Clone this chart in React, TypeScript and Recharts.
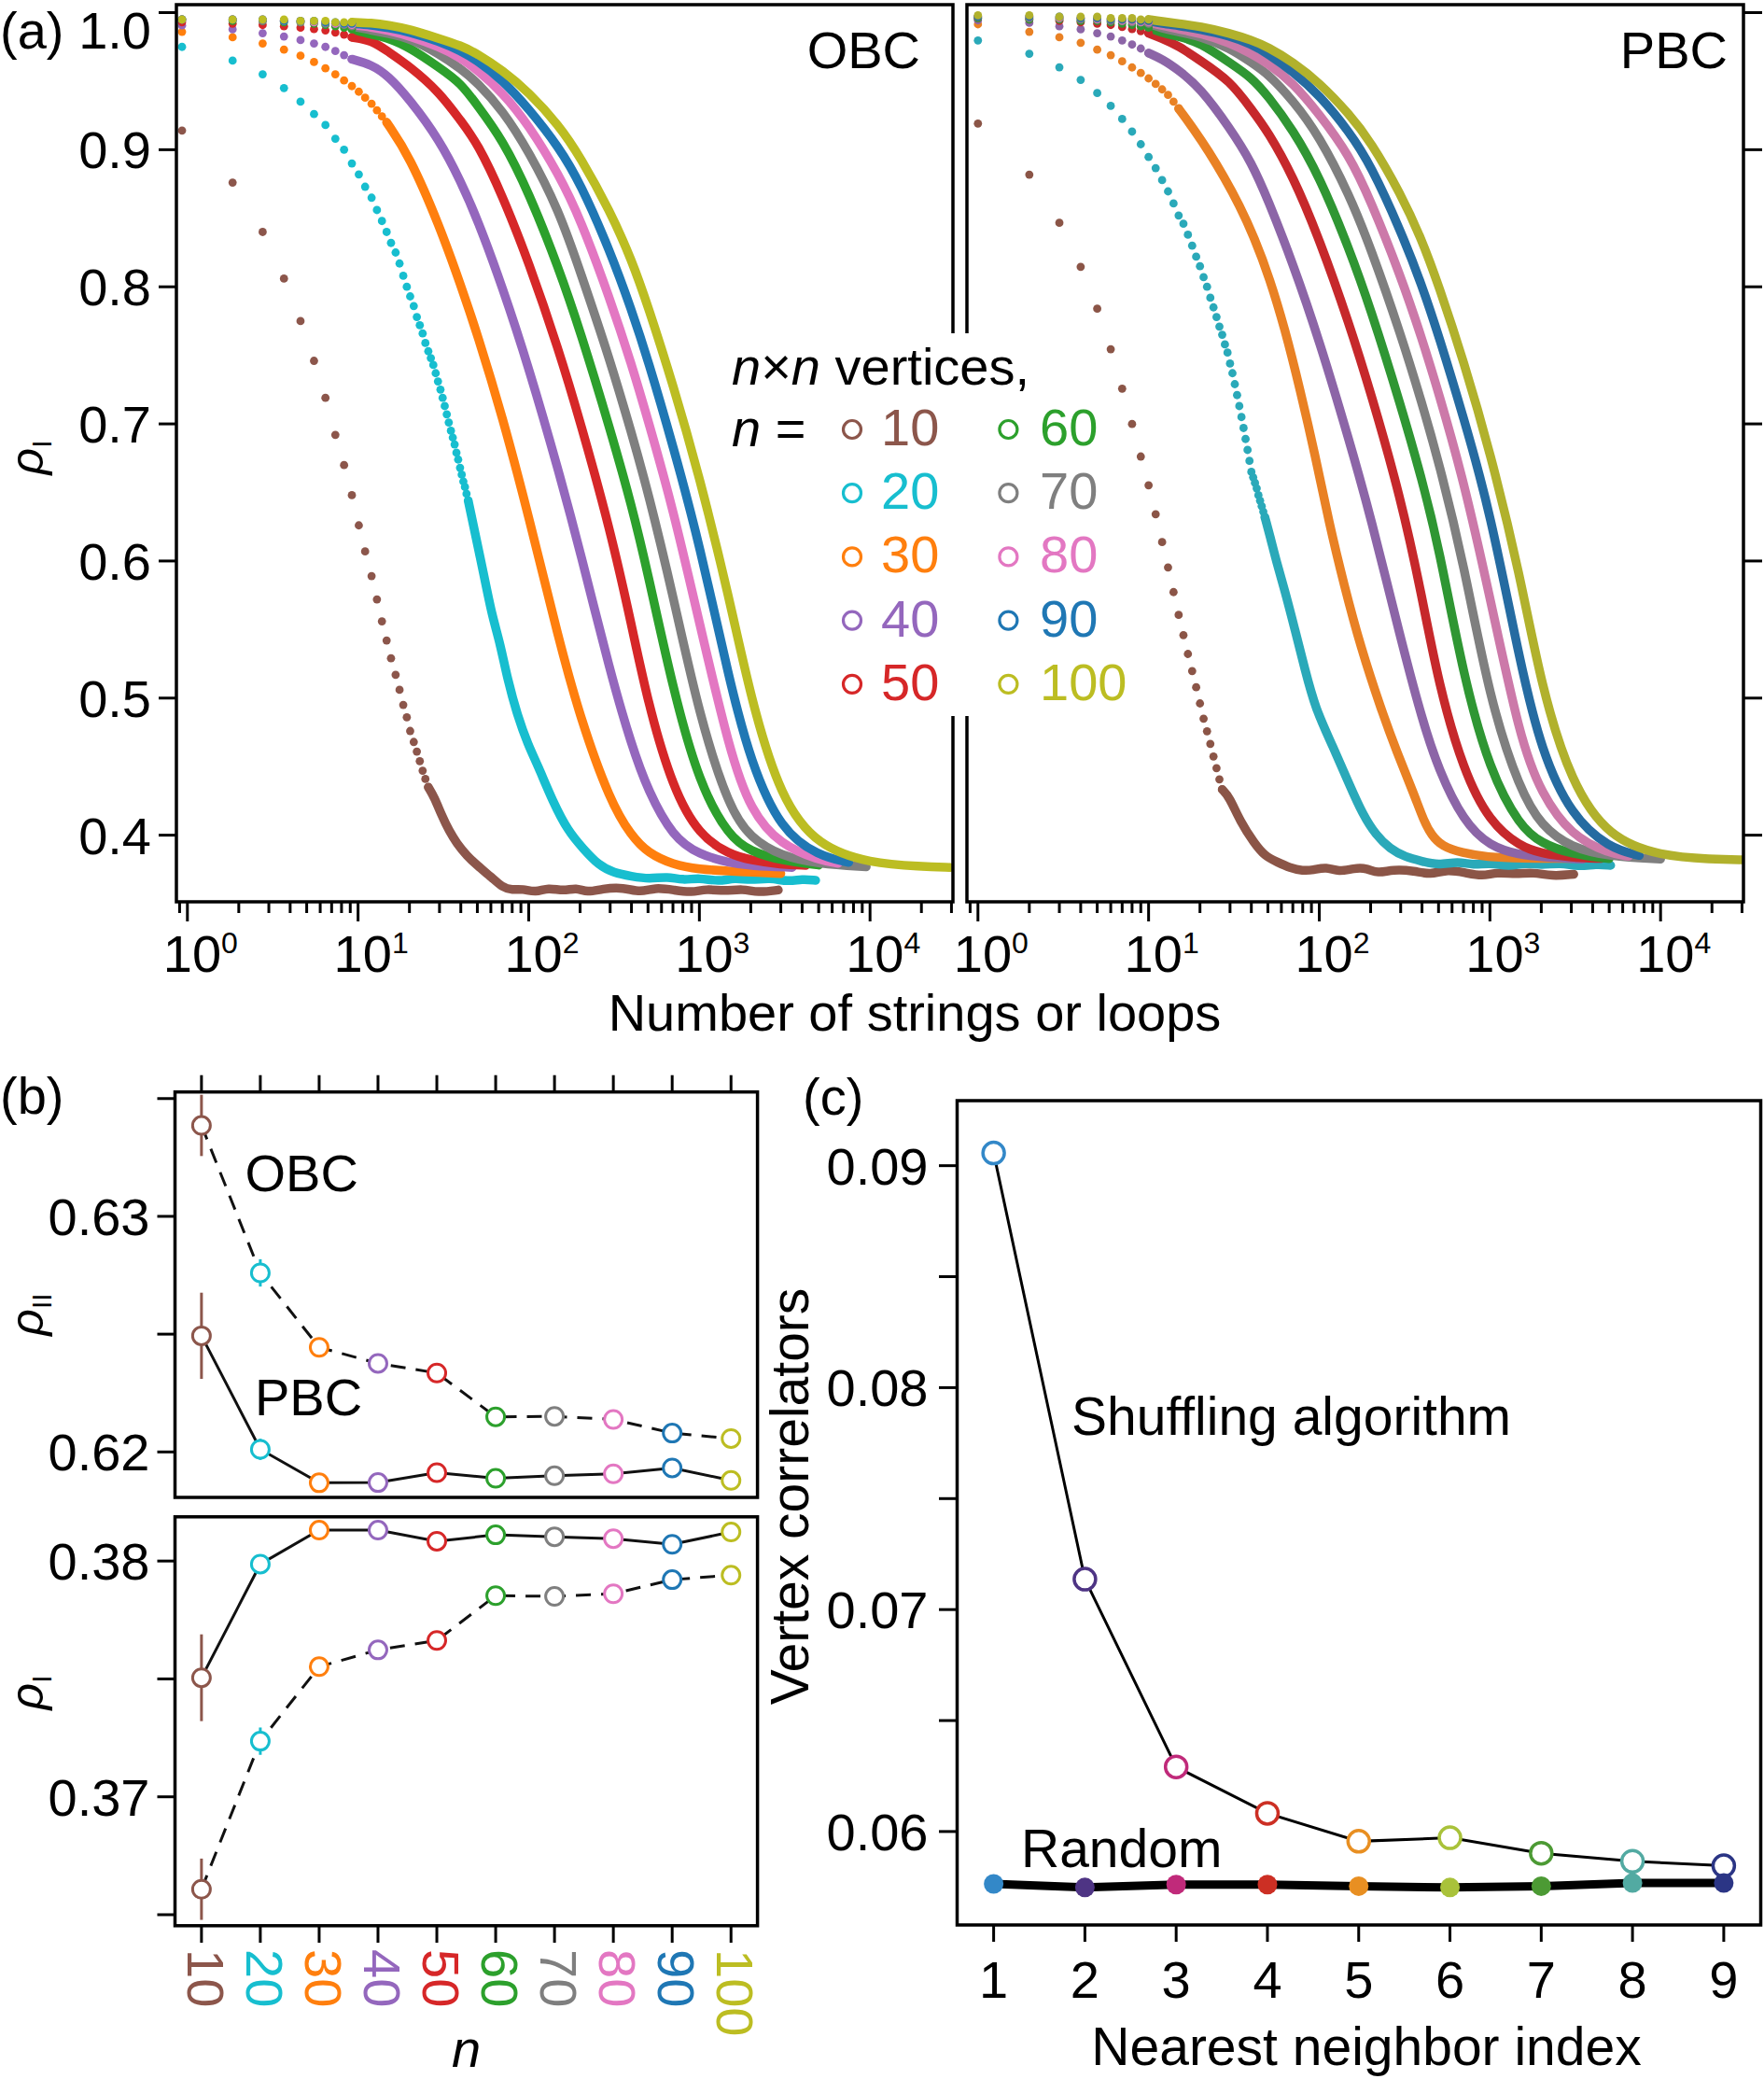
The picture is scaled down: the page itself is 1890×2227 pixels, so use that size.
import React from "react"
import { ComposedChart, Line, Scatter, XAxis, YAxis, ErrorBar } from "recharts"

const FONT = '"Liberation Sans", Arial, Helvetica, sans-serif'

// ---------- panel (a): rho_I vs number of strings or loops ----------
const sizes = [10, 20, 30, 40, 50, 60, 70, 80, 90, 100]
const obcColors = ["#8c564b", "#17becf", "#ff7f0e", "#9467bd", "#d62728", "#2ca02c", "#7f7f7f", "#e377c2", "#1f77b4", "#bcbd22"]
const pbcColors = ["#8b5547", "#2aa9b9", "#e98124", "#8c65a7", "#c6282b", "#2f9633", "#7f7f7f", "#cc79a9", "#256ba1", "#b1b12c"]

const stringTicks = [0.9, 1, 2, 3, 4, 5, 6, 7, 8, 9, 10, 20, 30, 40, 50, 60, 70, 80, 90, 100, 200, 300, 400, 500, 600, 700, 800, 900,
  1000, 2000, 3000, 4000, 5000, 6000, 7000, 8000, 9000, 10000, 20000, 30000]
const rhoTicks = [0.4, 0.5, 0.6, 0.7, 0.8, 0.9, 1.0]

// positions of the first, still separated points
const obcDotX = [0.93, 1.84, 2.76, 3.68, 4.6, 5.52, 6.44, 7.36, 8.28, 9.2, 10.1, 11.0, 12.0, 12.9, 13.8, 14.7, 15.6, 16.6, 17.5, 18.4,
  19.3, 20.2, 21.2, 22.1, 23.0, 23.9, 24.8, 25.8, 26.7, 27.6, 28.5, 29.4, 30.4, 31.3, 32.2, 33.1, 34.0, 35.0, 35.9, 36.8,
  37.7, 38.6, 39.6, 40.5, 41.4, 42.3, 43.2, 44.2]
const pbcDotX = [1, 2, 3, 4, 5, 6, 7, 8, 9, 10, 11, 12, 13, 14, 15, 16, 17, 18, 19, 20,
  21, 22, 23, 24, 25, 26, 27, 28, 29, 30, 31, 32, 33, 34, 35, 36, 37, 38, 39, 40, 41, 42, 43, 44, 45, 46, 47, 48]

// OBC
const obcDots10 = [0.914, 0.876, 0.84, 0.806, 0.775, 0.746, 0.719, 0.692, 0.67, 0.648, 0.626, 0.607, 0.589, 0.572, 0.556, 0.542, 0.529,
  0.517, 0.506, 0.495, 0.486, 0.476, 0.468, 0.461, 0.454, 0.447, 0.441, 0.435]
const obcTail10 = [[25.8, 0.435], [27.9, 0.428], [30.9, 0.4145], [34.2, 0.403], [37.9, 0.394], [43.4, 0.385], [49.8, 0.378], [61, 0.369],
  [70, 0.362], [80, 0.36], [92, 0.361], [110, 0.358], [130, 0.362], [160, 0.359], [190, 0.362], [220, 0.358], [270, 0.361], [360, 0.362],
  [450, 0.358], [550, 0.362], [710, 0.36], [900, 0.358], [1100, 0.361], [1400, 0.359], [1800, 0.361], [2200, 0.358], [2900, 0.36]]
const obcDots20 = [0.975, 0.965, 0.955, 0.945, 0.935, 0.926, 0.918, 0.908, 0.9, 0.89, 0.882, 0.873, 0.865, 0.856, 0.848, 0.84, 0.832,
  0.825, 0.817, 0.808, 0.8, 0.793, 0.786, 0.778, 0.772, 0.766, 0.759, 0.753, 0.748, 0.743, 0.737, 0.731, 0.725, 0.719, 0.713, 0.707,
  0.701, 0.695, 0.69, 0.685, 0.679, 0.674, 0.668, 0.663, 0.658, 0.654, 0.649, 0.644]
const obcTail20 = [[44.2, 0.644], [46.5, 0.631], [55, 0.588], [61, 0.56], [68, 0.54], [75, 0.514], [86, 0.487], [99, 0.466],
  [113, 0.451], [139, 0.424], [170, 0.403], [209, 0.39], [257, 0.378], [315, 0.3725], [400, 0.37], [510, 0.368], [650, 0.37], [800, 0.367],
  [1000, 0.369], [1300, 0.366], [1600, 0.369], [2000, 0.367], [2600, 0.369], [3300, 0.366], [4000, 0.368], [4800, 0.367]]
const obcDots30 = [0.986, 0.982, 0.9775, 0.973, 0.9686, 0.964, 0.9594, 0.955, 0.9505, 0.9464, 0.9423, 0.9379, 0.9335, 0.9287, 0.9243, 0.92]
const obcTail30 = [[14.7, 0.92], [20, 0.8955], [30, 0.8445], [40, 0.8011], [50, 0.7654], [70, 0.7058], [100, 0.6327], [150, 0.5425],
  [200, 0.4858], [300, 0.4245], [400, 0.3994], [500, 0.387], [700, 0.3785], [1000, 0.375], [1500, 0.3738], [2000, 0.373], [3000, 0.372]]
const obcDots40 = [0.9907, 0.9878, 0.985, 0.9826, 0.98, 0.9775, 0.975, 0.972, 0.969, 0.966]
const obcTail40 = [[9.2, 0.966], [12, 0.9621], [15, 0.954], [20, 0.9369], [30, 0.9072], [40, 0.8768], [50, 0.8495], [70, 0.8002],
  [100, 0.7413], [150, 0.6654], [200, 0.6073], [300, 0.5189], [400, 0.4657], [500, 0.4323], [700, 0.3985], [1000, 0.3858],
  [1500, 0.3798], [2000, 0.3776], [3500, 0.3765]]
const obcDots50 = [0.993, 0.992, 0.991, 0.99, 0.989, 0.988, 0.987, 0.9855, 0.984, 0.982]
const obcTail50 = [[9.2, 0.982], [12, 0.98], [15, 0.9715], [20, 0.961], [30, 0.942], [40, 0.921], [50, 0.905], [70, 0.867], [100, 0.818],
  [150, 0.754], [200, 0.702], [300, 0.6232], [400, 0.5537], [500, 0.4961], [700, 0.4336], [1000, 0.3997], [1500, 0.386], [2000, 0.3818],
  [3000, 0.3786], [4200, 0.378]]
const obcDots60 = [0.995, 0.994, 0.994, 0.993, 0.993, 0.992, 0.991, 0.99, 0.989, 0.988]
const obcTail60 = [[9.2, 0.988], [12, 0.984], [15, 0.9816], [20, 0.9747], [30, 0.9598], [40, 0.9486], [50, 0.9323], [70, 0.9076],
  [100, 0.869], [150, 0.8136], [200, 0.768], [300, 0.6962], [400, 0.6411], [500, 0.5907], [700, 0.5064], [1000, 0.437], [1500, 0.3985],
  [2000, 0.3882], [3000, 0.3815], [5000, 0.3782]]
const obcDots70 = [0.995, 0.995, 0.994, 0.994, 0.993, 0.993, 0.992, 0.992, 0.991, 0.99]
const obcTail70 = [[9.2, 0.99], [12, 0.9872], [15, 0.9847], [20, 0.9814], [30, 0.9698], [40, 0.959], [50, 0.949], [70, 0.929],
  [100, 0.899], [150, 0.856], [200, 0.8115], [300, 0.7464], [400, 0.6935], [500, 0.6506], [700, 0.5753], [1000, 0.4866], [1500, 0.4191],
  [2000, 0.3979], [3000, 0.3848], [5000, 0.379], [9500, 0.377]]
const obcDots80 = [0.995, 0.995, 0.995, 0.994, 0.994, 0.993, 0.993, 0.992, 0.992, 0.991]
const obcTail80 = [[9.2, 0.991], [12, 0.9895], [15, 0.987], [20, 0.983], [30, 0.975], [40, 0.967], [50, 0.958], [70, 0.942],
  [100, 0.918], [150, 0.882], [200, 0.85], [300, 0.791], [400, 0.7438], [500, 0.7029], [700, 0.6385], [1000, 0.555], [1500, 0.4618],
  [2000, 0.4174], [3000, 0.3927], [5000, 0.3819], [6500, 0.3795]]
const obcDots90 = [0.995, 0.995, 0.995, 0.994, 0.994, 0.994, 0.993, 0.993, 0.992, 0.992]
const obcTail90 = [[9.2, 0.992], [12, 0.991], [15, 0.989], [20, 0.986], [30, 0.979], [40, 0.972], [50, 0.965], [70, 0.951],
  [100, 0.93], [150, 0.902], [200, 0.876], [300, 0.826], [400, 0.7833], [500, 0.7466], [700, 0.6843], [1000, 0.6129], [1500, 0.5125],
  [2000, 0.4532], [3000, 0.4034], [5000, 0.3849], [7500, 0.3801]]
const obcDots100 = [0.995, 0.995, 0.995, 0.995, 0.994, 0.994, 0.994, 0.993, 0.993, 0.993]
const obcTail100 = [[9.2, 0.993], [12, 0.9925], [15, 0.991], [20, 0.988], [30, 0.981], [40, 0.976], [50, 0.97], [70, 0.958],
  [100, 0.942], [150, 0.918], [200, 0.895], [300, 0.855], [400, 0.82], [500, 0.7859], [700, 0.7288], [1000, 0.6618], [1500, 0.5727],
  [2000, 0.4997], [3000, 0.4259], [5000, 0.3914], [10000, 0.3796], [20000, 0.3771], [29500, 0.3765]]

// PBC
const pbcDots10 = [0.9191, 0.8818, 0.8467, 0.8146, 0.784, 0.7545, 0.7257, 0.6999, 0.6762, 0.6552, 0.6341, 0.6138, 0.5953, 0.5773,
  0.5607, 0.5459, 0.5322, 0.5197, 0.5079, 0.4961, 0.485, 0.4758, 0.4666, 0.4574, 0.4489, 0.4407, 0.4333]
const pbcTail10 = [[27, 0.4333], [29.7, 0.428], [34.4, 0.41], [41.7, 0.394], [47.8, 0.385], [56.7, 0.3804], [67.5, 0.3761], [80, 0.374],
  [92, 0.3745], [110, 0.377], [130, 0.373], [160, 0.376], [190, 0.376], [220, 0.372], [270, 0.375], [360, 0.374], [450, 0.371],
  [550, 0.375], [720, 0.3726], [900, 0.37], [1100, 0.373], [1420, 0.3715], [1800, 0.373], [2300, 0.37], [3100, 0.3715]]
const pbcDots20 = [0.9797, 0.97, 0.9601, 0.9509, 0.9413, 0.932, 0.9224, 0.9132, 0.904, 0.8947, 0.8866, 0.8778, 0.8696, 0.8608, 0.852,
  0.846, 0.838, 0.83, 0.822, 0.815, 0.807, 0.8, 0.792, 0.785, 0.778, 0.771, 0.765, 0.758, 0.752, 0.744, 0.737, 0.729, 0.721, 0.713,
  0.705, 0.697, 0.689, 0.681, 0.673, 0.665, 0.661, 0.657, 0.653, 0.648, 0.644, 0.64, 0.636, 0.632]
const pbcTail20 = [[48, 0.632], [52, 0.616], [56, 0.6], [63, 0.578], [72, 0.55], [82, 0.522], [95, 0.492], [120, 0.465],
  [150, 0.437], [180, 0.415], [215, 0.4], [260, 0.39], [320, 0.384], [400, 0.381], [500, 0.378], [650, 0.381], [800, 0.378], [1000, 0.38],
  [1300, 0.377], [1600, 0.38], [2000, 0.378], [2600, 0.38], [3300, 0.377], [4200, 0.379], [5100, 0.378]]
const pbcDots30 = [0.9915, 0.986, 0.982, 0.978, 0.973, 0.969, 0.9645, 0.96, 0.956, 0.952, 0.948, 0.944, 0.94, 0.935, 0.93]
const pbcTail30 = [[15, 0.93], [18.4, 0.915], [22.6, 0.8984], [27.7, 0.88], [34, 0.8597], [41.7, 0.8357], [51.2, 0.8062], [62.9, 0.7693],
  [77.2, 0.725], [94.7, 0.677], [114, 0.628], [140, 0.582], [175, 0.537], [230, 0.492], [286, 0.46], [359, 0.43], [411, 0.41], [455, 0.4],
  [522, 0.392], [686, 0.387], [965, 0.384], [1500, 0.383], [3000, 0.383]]
const pbcDots40 = [0.9944, 0.9926, 0.99, 0.9878, 0.985, 0.9826, 0.9797, 0.9767, 0.9738, 0.9705]
const pbcTail40 = [[10, 0.9705], [12, 0.9661], [15, 0.958], [20, 0.9454], [30, 0.9157], [40, 0.891], [50, 0.8638], [70, 0.8172],
  [100, 0.7611], [150, 0.6877], [200, 0.6326], [300, 0.5432], [400, 0.4846], [500, 0.4478], [700, 0.41], [1000, 0.3917], [1500, 0.3856],
  [2000, 0.384], [3500, 0.3825]]
const pbcDots50 = [0.996, 0.995, 0.994, 0.993, 0.992, 0.991, 0.9895, 0.988, 0.9865, 0.985]
const pbcTail50 = [[10, 0.985], [12, 0.9812], [15, 0.9757], [20, 0.9652], [30, 0.9503], [40, 0.9296], [50, 0.9133], [70, 0.881],
  [100, 0.835], [150, 0.7729], [200, 0.7231], [300, 0.6465], [400, 0.5742], [500, 0.5102], [700, 0.4467], [1000, 0.4092], [1500, 0.3918],
  [2000, 0.3867], [3000, 0.3837], [4500, 0.383]]
const pbcDots60 = [0.996, 0.995, 0.995, 0.994, 0.994, 0.993, 0.992, 0.991, 0.99, 0.989]
const pbcTail60 = [[10, 0.989], [12, 0.9852], [15, 0.9827], [20, 0.9782], [30, 0.9633], [40, 0.9528], [50, 0.9393], [70, 0.9146],
  [100, 0.8808], [150, 0.8276], [200, 0.7839], [300, 0.7139], [400, 0.6594], [500, 0.6113], [700, 0.5155], [1000, 0.4465], [1500, 0.4064],
  [2000, 0.3941], [3000, 0.386], [5000, 0.3829]]
const pbcDots70 = [0.997, 0.996, 0.996, 0.995, 0.995, 0.994, 0.994, 0.993, 0.993, 0.992]
const pbcTail70 = [[10, 0.992], [12, 0.9885], [15, 0.986], [20, 0.9827], [30, 0.9741], [40, 0.9636], [50, 0.9554], [70, 0.9361],
  [100, 0.91], [150, 0.8672], [200, 0.8285], [300, 0.7657], [400, 0.715], [500, 0.6729], [700, 0.5993], [1000, 0.4978], [1500, 0.4328],
  [2000, 0.4068], [3000, 0.3907], [5000, 0.3846], [10000, 0.3825]]
const pbcDots80 = [0.997, 0.997, 0.996, 0.996, 0.995, 0.995, 0.994, 0.994, 0.993, 0.993]
const pbcTail80 = [[10, 0.993], [12, 0.9905], [15, 0.988], [20, 0.985], [30, 0.978], [40, 0.97], [50, 0.963], [70, 0.949],
  [100, 0.926], [150, 0.896], [200, 0.863], [300, 0.808], [400, 0.7622], [500, 0.7229], [700, 0.6594], [1000, 0.5738], [1500, 0.4703],
  [2000, 0.4302], [3000, 0.3995], [5000, 0.3867], [6500, 0.3846]]
const pbcDots90 = [0.997, 0.997, 0.997, 0.996, 0.996, 0.995, 0.995, 0.995, 0.994, 0.994]
const pbcTail90 = [[10, 0.994], [12, 0.992], [15, 0.9905], [20, 0.988], [30, 0.983], [40, 0.977], [50, 0.97], [70, 0.957],
  [100, 0.94], [150, 0.913], [200, 0.889], [300, 0.841], [400, 0.801], [500, 0.7648], [700, 0.705], [1000, 0.6369], [1500, 0.526],
  [2000, 0.4615], [3000, 0.4139], [5000, 0.3906], [7500, 0.3852]]
const pbcDots100 = [0.998, 0.998, 0.997, 0.997, 0.997, 0.996, 0.996, 0.996, 0.995, 0.995]
const pbcTail100 = [[10, 0.995], [12, 0.9935], [15, 0.992], [20, 0.99], [30, 0.985], [40, 0.98], [50, 0.975], [70, 0.964],
  [100, 0.949], [150, 0.926], [200, 0.906], [300, 0.868], [400, 0.834], [500, 0.8013], [700, 0.7463], [1000, 0.6801], [1500, 0.5904],
  [2000, 0.5082], [3000, 0.4374], [5000, 0.3979], [10000, 0.3848], [20000, 0.3825], [31000, 0.382]]

// ---------- panel (b): rho_II and rho_I vs n ----------
const rhoIIObc = [0.63386, 0.6276, 0.62444, 0.62376, 0.62335, 0.62149, 0.62151, 0.62138, 0.6208, 0.62057]
const rhoIIObcErr = [0.0013, 0.00058, 0.00012, 0.0001, 0.0001, 0.00004, 0.00004, 0.00004, 0.00004, 0.00004]
const rhoIIPbc = [0.62493, 0.62011, 0.61869, 0.6187, 0.61912, 0.61888, 0.61899, 0.61907, 0.61932, 0.61879]
const rhoIIPbcErr = [0.00183, 0.00045, 0.00028, 0.00012, 0.0001, 0.00005, 0.00005, 0.00004, 0.00005, 0.00004]
const rhoIPbc = [0.37505, 0.37987, 0.38131, 0.38131, 0.38084, 0.38111, 0.38103, 0.38095, 0.38071, 0.38123]
const rhoIPbcErr = [0.00184, 0.0003, 0.00028, 0.0001, 0.0001, 0.00005, 0.00005, 0.00004, 0.00005, 0.00004]
const rhoIObc = [0.36608, 0.37236, 0.37552, 0.37623, 0.37663, 0.37853, 0.3785, 0.37861, 0.37921, 0.3794]
const rhoIObcErr = [0.0013, 0.00058, 0.0001, 0.0001, 0.0001, 0.00005, 0.00005, 0.00004, 0.00005, 0.00004]

// ---------- panel (c): vertex correlators ----------
const neighborIndex = [1, 2, 3, 4, 5, 6, 7, 8, 9]
const shuffling = [0.09057, 0.07137, 0.06291, 0.06082, 0.05956, 0.05972, 0.05902, 0.05866, 0.05846]
const random = [0.05764, 0.05748, 0.05761, 0.05761, 0.05754, 0.05748, 0.05754, 0.05768, 0.05768]
const neighborColors = ["#3388c8", "#4e3484", "#c02a7a", "#cc2f24", "#e88f22", "#a9c23a", "#4c9a34", "#52aaa2", "#2b3585"]

// ---------- helpers ----------
const pts = (xs: number[], ys: number[]) => ys.map((y, i) => ({ x: xs[i], y }))
const pairs = (t: number[][]) => t.map(([x, y]) => ({ x, y }))

const obcSeries = [
  [obcDots10, obcTail10], [obcDots20, obcTail20], [obcDots30, obcTail30], [obcDots40, obcTail40], [obcDots50, obcTail50],
  [obcDots60, obcTail60], [obcDots70, obcTail70], [obcDots80, obcTail80], [obcDots90, obcTail90], [obcDots100, obcTail100],
].map(([d, t]: any) => ({ dots: pts(obcDotX, d), tail: pairs(t) }))
const pbcSeries = [
  [pbcDots10, pbcTail10], [pbcDots20, pbcTail20], [pbcDots30, pbcTail30], [pbcDots40, pbcTail40], [pbcDots50, pbcTail50],
  [pbcDots60, pbcTail60], [pbcDots70, pbcTail70], [pbcDots80, pbcTail80], [pbcDots90, pbcTail90], [pbcDots100, pbcTail100],
].map(([d, t]: any) => ({ dots: pts(pbcDotX, d), tail: pairs(t) }))

// ---------- ticks ----------
function LogTick(props: any) {
  const { x, y, payload } = props
  const lg = Math.log10(payload.value)
  const major = Math.abs(lg - Math.round(lg)) < 1e-6
  return (
    <g>
      <line x1={x} x2={x} y1={y} y2={y + (major ? 21 : 12)} stroke="#000" strokeWidth={3} />
      {major && (
        <text x={x + 14} y={y + 75} textAnchor="middle" fontSize={56} fontFamily={FONT} fill="#000">
          10<tspan fontSize={32} dy={-20}>{Math.round(lg)}</tspan>
        </text>
      )}
    </g>
  )
}

function RhoLeftTick(props: any) {
  const { x, y, payload } = props
  return (
    <g>
      <line x1={x - 19} x2={x} y1={y} y2={y} stroke="#000" strokeWidth={3} />
      <text x={x - 27} y={Math.max(y + 20, 52)} textAnchor="end" fontSize={56} fontFamily={FONT} fill="#000">
        {payload.value.toFixed(1)}
      </text>
    </g>
  )
}

function RhoRightTick(props: any) {
  const { x, y } = props
  return <line x1={x} x2={x + 20} y1={y} y2={y} stroke="#000" strokeWidth={3} />
}

function SmallYTick(props: any) {
  const { x, y, payload } = props
  const labeled = Math.round(payload.value * 1000) % 10 === 0
  return (
    <g>
      <line x1={x - 19} x2={x} y1={y} y2={y} stroke="#000" strokeWidth={3} />
      {labeled && (
        <text x={x - 27} y={y + 20} textAnchor="end" fontSize={56} fontFamily={FONT} fill="#000">
          {payload.value.toFixed(2)}
        </text>
      )}
    </g>
  )
}

function CorrTick(props: any) {
  const { x, y, payload } = props
  const labeled = Math.round(payload.value * 1000) % 10 === 0
  return (
    <g>
      <line x1={x - 19.5} x2={x} y1={y} y2={y} stroke="#000" strokeWidth={3} />
      {labeled && (
        <text x={x - 31} y={y + 20} textAnchor="end" fontSize={56} fontFamily={FONT} fill="#000">
          {payload.value.toFixed(2)}
        </text>
      )}
    </g>
  )
}

function TopNTick(props: any) {
  const { x, y } = props
  return <line x1={x} x2={x} y1={y - 18} y2={y} stroke="#000" strokeWidth={3} />
}

function BottomNTick(props: any) {
  const { x, y, payload } = props
  const i = sizes.indexOf(payload.value)
  return (
    <g>
      <line x1={x} x2={x} y1={y} y2={y + 18} stroke="#000" strokeWidth={3} />
      <text transform={`translate(${x},${y + 25}) rotate(90)`} x={0} y={15} fontSize={56} fontFamily={FONT} fill={obcColors[i]}>
        {payload.value}
      </text>
    </g>
  )
}

function IndexTick(props: any) {
  const { x, y, payload } = props
  return (
    <g>
      <line x1={x} x2={x} y1={y} y2={y + 18} stroke="#000" strokeWidth={3} />
      <text x={x} y={y + 78} textAnchor="middle" fontSize={56} fontFamily={FONT} fill="#000">{payload.value}</text>
    </g>
  )
}

const axisCommon = { tickLine: false, axisLine: false, tickSize: 0, tickMargin: 0, interval: 0 as const, allowDataOverflow: true }

// ---------- charts ----------
function StringsPanel({ obc }: { obc: boolean }) {
  const series = obc ? obcSeries : pbcSeries
  const colors = obc ? obcColors : pbcColors
  return (
    <ComposedChart
      width={obc ? 1030 : 890}
      height={1060}
      margin={obc ? { top: 5, right: 9, bottom: 0, left: 0 } : { top: 5, right: 0, bottom: 0, left: 36 }}
    >
      <XAxis dataKey="x" type="number" scale="log" domain={[0.862, 30600]} ticks={stringTicks} tick={LogTick} height={94} {...axisCommon} />
      <YAxis
        dataKey="y"
        type="number"
        domain={[0.3514, 1.0058]}
        ticks={rhoTicks}
        orientation={obc ? "left" : "right"}
        width={obc ? 189 : 22}
        tick={obc ? RhoLeftTick : RhoRightTick}
        {...axisCommon}
      />
      {series.flatMap((s, i) => [
        <Line
          key={`tail${i}`}
          data={s.tail}
          dataKey="y"
          type="basis"
          stroke={colors[i]}
          strokeWidth={9.5}
          strokeLinecap="round"
          strokeLinejoin="round"
          dot={false}
          activeDot={false}
          isAnimationActive={false}
        />,
        <Scatter
          key={`dots${i}`}
          data={s.dots}
          fill={colors[i]}
          isAnimationActive={false}
          shape={(p: any) => <circle cx={p.cx} cy={p.cy} r={4.4} fill={colors[i]} />}
        />,
      ])}
    </ComposedChart>
  )
}

const openDot = (r: number, sw: number, colors: string[]) => (p: any) =>
  <circle key={`o${p.index}`} cx={p.cx} cy={p.cy} r={r} fill="#fff" stroke={colors[p.index]} strokeWidth={sw} />

function NPanel({ upper }: { upper: boolean }) {
  const groups = upper
    ? [[rhoIIObc, rhoIIObcErr, true], [rhoIIPbc, rhoIIPbcErr, false]]
    : [[rhoIObc, rhoIObcErr, true], [rhoIPbc, rhoIPbcErr, false]]
  return (
    <ComposedChart width={830} height={upper ? 484 : 588} margin={{ top: 0, right: 18.4, bottom: 0, left: 0 }}>
      <XAxis
        dataKey="x"
        type="number"
        domain={[5.5, 104.5]}
        ticks={sizes}
        orientation={upper ? "top" : "bottom"}
        height={upper ? 49.7 : 150}
        tick={upper ? TopNTick : BottomNTick}
        {...axisCommon}
      />
      <YAxis
        dataKey="y"
        type="number"
        domain={upper ? [0.61807, 0.63528] : [0.364525, 0.381867]}
        ticks={upper ? [0.62, 0.625, 0.63, 0.635] : [0.365, 0.37, 0.375, 0.38]}
        width={187.5}
        tick={SmallYTick}
        {...axisCommon}
      />
      {groups.map(([vals, , dashed]: any, g) => (
        <Line key={`conn${g}`} data={pts(sizes, vals)} dataKey="y" type="linear" stroke="#111" strokeWidth={3}
          strokeDasharray={dashed ? "16 11" : undefined} dot={false} activeDot={false} isAnimationActive={false} />
      ))}
      {groups.map(([vals]: any, g) => (
        <Scatter key={`circ${g}`} data={pts(sizes, vals)} isAnimationActive={false}
          shape={(p: any) => (
            <circle cx={p.cx} cy={p.cy} r={9.5} fill="#fff" stroke={obcColors[sizes.indexOf(p.payload?.x)]} strokeWidth={3} />
          )} />
      ))}
      {groups.flatMap(([vals, errs]: any, g) =>
        sizes.map((n, i) => (
          <Scatter key={`err${g}-${i}`} data={[{ x: n, y: vals[i], e: errs[i] }]} isAnimationActive={false} shape={() => <g />}>
            <ErrorBar dataKey="e" direction="y" width={0} stroke={obcColors[i]} strokeWidth={3} isAnimationActive={false} />
          </Scatter>
        ))
      )}
    </ComposedChart>
  )
}

function CorrPanel() {
  return (
    <ComposedChart width={1050} height={1012} margin={{ top: 29, right: 4, bottom: 0, left: 0 }}>
      <XAxis dataKey="x" type="number" domain={[0.6, 9.4]} ticks={neighborIndex} height={100} tick={IndexTick} {...axisCommon} />
      <YAxis dataKey="y" type="number" domain={[0.05579, 0.09293]} ticks={[0.06, 0.065, 0.07, 0.075, 0.08, 0.085, 0.09]}
        width={185.5} tick={CorrTick} {...axisCommon} />
      <Line data={pts(neighborIndex, shuffling)} dataKey="y" type="linear" stroke="#000" strokeWidth={3}
        dot={openDot(11.5, 3.5, neighborColors)} activeDot={false} isAnimationActive={false} />
      <Line data={pts(neighborIndex, random)} dataKey="y" type="linear" stroke="#000" strokeWidth={9}
        dot={(p: any) => <circle key={`f${p.index}`} cx={p.cx} cy={p.cy} r={10.5} fill={neighborColors[p.index]} />}
        activeDot={false} isAnimationActive={false} />
    </ComposedChart>
  )
}

// ---------- frames, labels, legend ----------
function Overlay() {
  const t = { fontSize: 56, fill: "#000" }
  return (
    <svg width={1890} height={2227} fontFamily={FONT} style={{ position: "absolute", left: 0, top: 0, pointerEvents: "none" }}>
      <g fill="none" stroke="#000" strokeWidth={3.5}>
        <rect x={189} y={5} width={832} height={961} />
        <rect x={1036} y={5} width={832} height={961} />
        <rect x={187.5} y={1169.7} width={624.1} height={434.3} />
        <rect x={187.5} y={1624.8} width={624.1} height={438} />
        <rect x={1025.5} y={1179} width={861} height={883} />
      </g>
      <rect x={1016} y={357} width={24} height={410} fill="#fff" />

      {/* panel (a) */}
      <text x={0} y={52} {...t}>(a)</text>
      <text x={986} y={73} textAnchor="end" {...t}>OBC</text>
      <text x={1851} y={73} textAnchor="end" {...t}>PBC</text>
      <text transform="translate(46,490) rotate(-90)" textAnchor="middle" {...t} fontSize={50} fontStyle="italic">
        ρ<tspan fontStyle="normal" fontSize={30} dy={9}>I</tspan>
      </text>
      <text x={980} y={1104} textAnchor="middle" {...t}>Number of strings or loops</text>

      <text x={784} y={412} {...t}>
        <tspan fontStyle="italic">n</tspan>×<tspan fontStyle="italic">n</tspan> vertices,
      </text>
      <text x={784} y={478} {...t}>
        <tspan fontStyle="italic">n</tspan> =
      </text>
      {sizes.map((n, i) => {
        const col = i < 5 ? 0 : 1
        const base = 477 + (i % 5) * 68.2
        return (
          <g key={n}>
            <circle cx={col ? 1080.4 : 913} cy={base - 17} r={9.5} fill="none" stroke={obcColors[i]} strokeWidth={3.2} />
            <text x={col ? 1114 : 944} y={base} fontSize={56} fill={obcColors[i]}>{n}</text>
          </g>
        )
      })}

      {/* panel (b) */}
      <text x={0} y={1193} {...t}>(b)</text>
      <text x={262.5} y={1276} {...t}>OBC</text>
      <text x={273} y={1516} {...t}>PBC</text>
      <text transform="translate(46,1408) rotate(-90)" textAnchor="middle" {...t} fontSize={50} fontStyle="italic">
        ρ<tspan fontStyle="normal" fontSize={30} dy={9}>II</tspan>
      </text>
      <text transform="translate(46,1813) rotate(-90)" textAnchor="middle" {...t} fontSize={50} fontStyle="italic">
        ρ<tspan fontStyle="normal" fontSize={30} dy={9}>I</tspan>
      </text>
      <text x={499.5} y={2214} textAnchor="middle" {...t} fontStyle="italic">n</text>

      {/* panel (c) */}
      <text x={860} y={1194} {...t}>(c)</text>
      <text transform="translate(866,1603) rotate(-90)" textAnchor="middle" {...t} fontSize={57}>Vertex correlators</text>
      <text x={1148} y={1537} {...t} fontSize={57}>Shuffling algorithm</text>
      <text x={1094} y={2000} {...t} fontSize={57}>Random</text>
      <text x={1464} y={2212} textAnchor="middle" {...t} fontSize={57}>Nearest neighbor index</text>
    </svg>
  )
}

export default function App() {
  return (
    <div style={{ position: "absolute", left: 0, top: 0, width: 1890, height: 2227, background: "#fff", fontFamily: FONT }}>
      <div style={{ position: "absolute", left: 0, top: 0 }}>
        <StringsPanel obc={true} />
      </div>
      <div style={{ position: "absolute", left: 1000, top: 0 }}>
        <StringsPanel obc={false} />
      </div>
      <div style={{ position: "absolute", left: 0, top: 1120 }}>
        <NPanel upper={true} />
      </div>
      <div style={{ position: "absolute", left: 0, top: 1624.8 }}>
        <NPanel upper={false} />
      </div>
      <div style={{ position: "absolute", left: 840, top: 1150 }}>
        <CorrPanel />
      </div>
      <Overlay />
    </div>
  )
}
